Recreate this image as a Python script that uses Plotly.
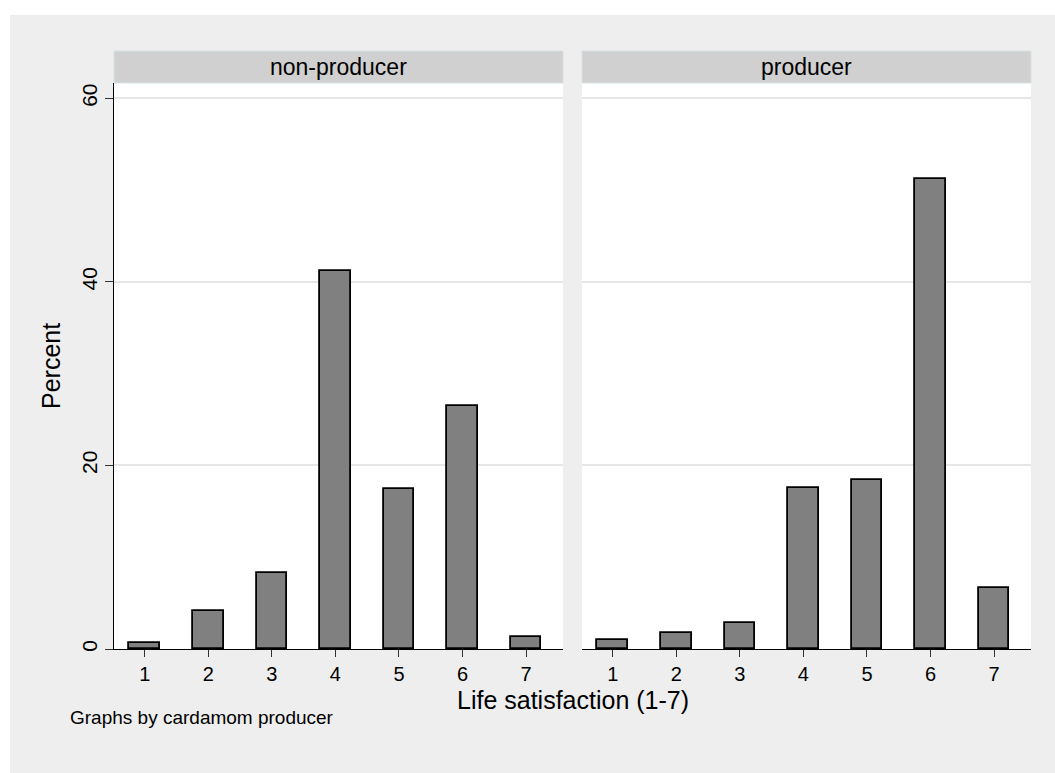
import plotly.graph_objects as go

# Life satisfaction score (1-7) and percent of respondents in each group
scores = [1, 2, 3, 4, 5, 6, 7]
pct_non_producer = [0.6, 4.1, 8.3, 41.2, 17.4, 26.5, 1.3]
pct_producer = [1.0, 1.7, 2.8, 17.5, 18.4, 51.2, 6.7]
panel_titles = ["non-producer", "producer"]
y_ticks = [0, 20, 40, 60]

W, H = 1055, 773
ML, MR, MT, MB = 114, 24, 83, 124
PW, PH = W - ML - MR, H - MT - MB
GAP = 19
FONT = "Liberation Sans, Arial, Helvetica, sans-serif"


def px_x(px):
    return (px - ML) / PW


def px_y(py):
    return (H - MB - py) / PH


left_dom = [0, px_x(ML + (PW - GAP) / 2)]
right_dom = [px_x(ML + (PW + GAP) / 2), 1]

bar_style = dict(color="#808080", line=dict(color="#000000", width=1.8))

fig = go.Figure()
fig.add_trace(go.Bar(x=scores, y=pct_non_producer, width=0.48, marker=bar_style,
                     xaxis="x", yaxis="y", showlegend=False, hoverinfo="x+y"))
fig.add_trace(go.Bar(x=scores, y=pct_producer, width=0.48, marker=bar_style,
                     xaxis="x2", yaxis="y2", showlegend=False, hoverinfo="x+y"))

xcommon = dict(range=[0.517, 7.58], tickvals=scores, ticks="outside", ticklen=7,
               tickcolor="#333333", tickwidth=1, showline=True, linecolor="#000000",
               linewidth=1.2, showgrid=False, zeroline=False,
               tickfont=dict(family=FONT, size=20, color="#000000"))
ycommon = dict(range=[0, 61.67], tickvals=y_ticks, showgrid=True, gridcolor="#e6e6e6",
               gridwidth=1.5, zeroline=False)

fig.update_layout(
    width=W, height=H, autosize=False,
    margin=dict(l=ML, r=MR, t=MT, b=MB, pad=0),
    paper_bgcolor="#eeeeee", plot_bgcolor="#ffffff",
    bargap=0,
    xaxis=dict(domain=left_dom, anchor="y", **xcommon),
    xaxis2=dict(domain=right_dom, anchor="y2", **xcommon),
    yaxis=dict(domain=[0, 1], anchor="x", ticks="outside", ticklen=8, tickcolor="#333333",
               tickwidth=1, showline=True, linecolor="#000000", linewidth=1.2,
               tickangle=-90, tickfont=dict(family=FONT, size=21, color="#000000"),
               **ycommon),
    yaxis2=dict(domain=[0, 1], anchor="x2", matches="y", showticklabels=False,
                ticks="", showline=False, **ycommon),
    font=dict(family=FONT, color="#000000"),
)

shapes = [
    # white outer border along top and left edges
    dict(type="rect", xref="paper", yref="paper", x0=px_x(0), x1=px_x(W),
         y0=px_y(15), y1=px_y(0), fillcolor="#ffffff", line=dict(width=0), layer="below"),
    dict(type="rect", xref="paper", yref="paper", x0=px_x(0), x1=px_x(10),
         y0=px_y(H), y1=px_y(0), fillcolor="#ffffff", line=dict(width=0), layer="below"),
]
annotations = []
strip_top = px_y(51)
for dom, title in zip([left_dom, right_dom], panel_titles):
    shapes.append(dict(type="rect", xref="paper", yref="paper", x0=dom[0], x1=dom[1],
                       y0=1, y1=strip_top, fillcolor="#d0d0d0",
                       line=dict(color="#d6e2e6", width=1), layer="above"))
    annotations.append(dict(text=title, xref="paper", yref="paper",
                            x=(dom[0] + dom[1]) / 2, y=(1 + strip_top) / 2,
                            xanchor="center", yanchor="middle", showarrow=False,
                            font=dict(family=FONT, size=23, color="#000000")))

annotations += [
    dict(text="Percent", xref="paper", yref="paper", x=px_x(51), y=0.5,
         xanchor="center", yanchor="middle", textangle=-90, showarrow=False,
         font=dict(family=FONT, size=25, color="#000000")),
    dict(text="Life satisfaction (1-7)", xref="paper", yref="paper", x=0.5, y=px_y(700),
         xanchor="center", yanchor="middle", showarrow=False,
         font=dict(family=FONT, size=25, color="#000000")),
    dict(text="Graphs by cardamom producer", xref="paper", yref="paper", x=px_x(68),
         y=px_y(717), xanchor="left", yanchor="middle", showarrow=False,
         font=dict(family=FONT, size=19, color="#000000")),
]

fig.update_layout(shapes=shapes, annotations=annotations)
fig.write_html("out.html")
